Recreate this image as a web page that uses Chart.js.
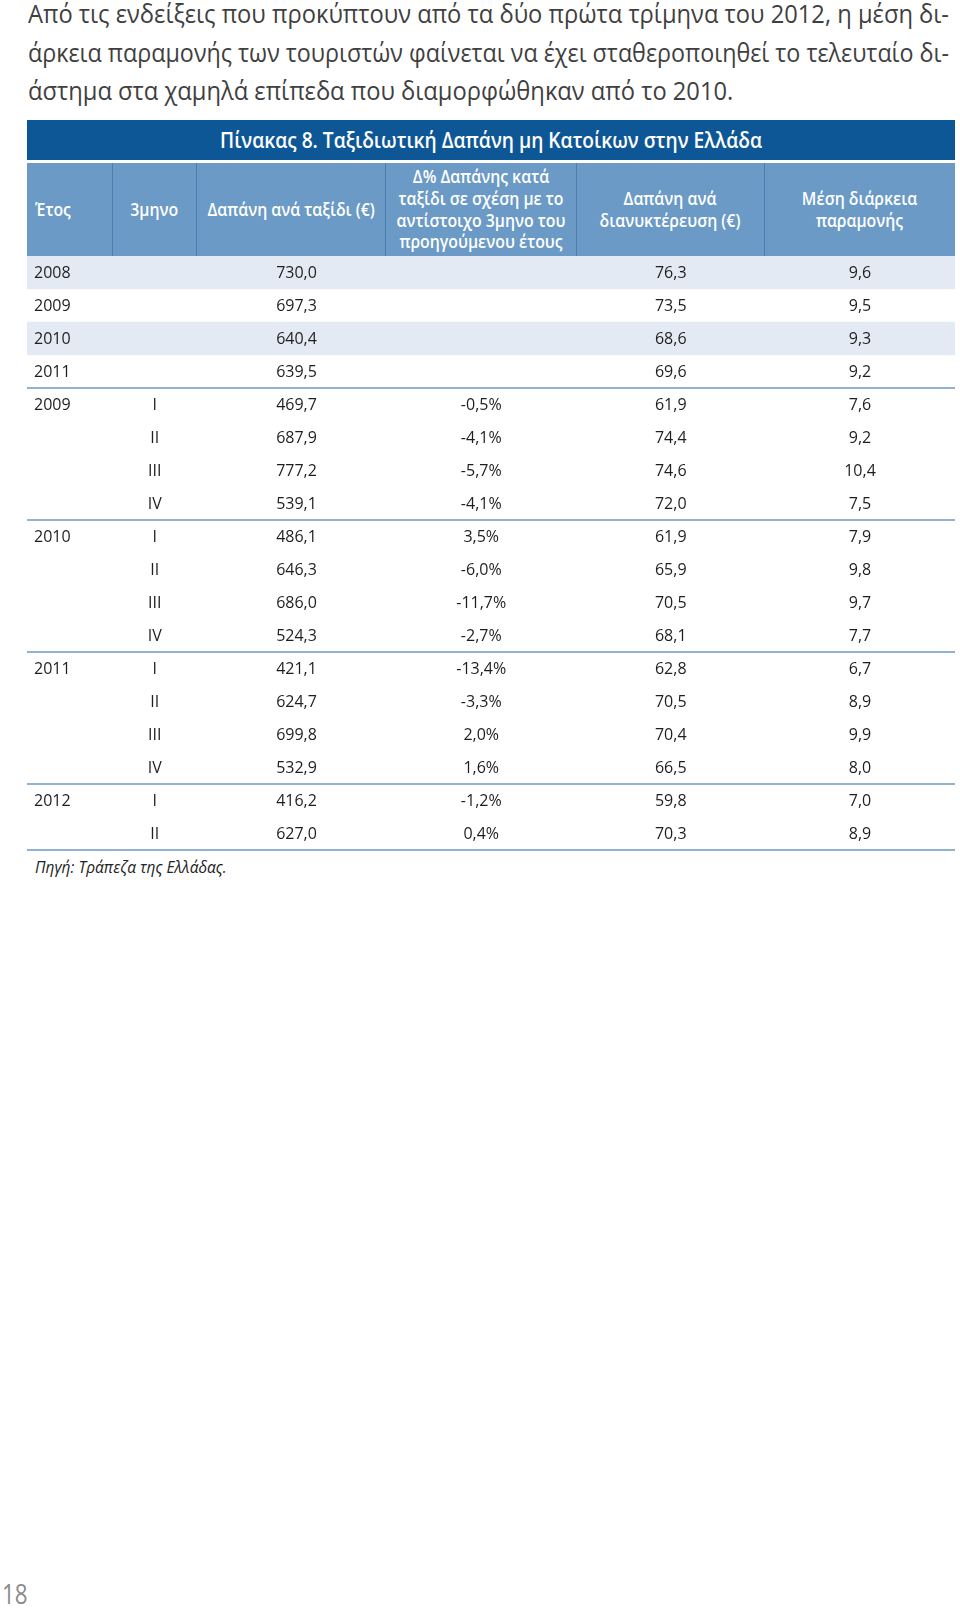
<!DOCTYPE html>
<html>
<head>
<meta charset="utf-8">
<script src="https://cdn.jsdelivr.net/npm/chart.js@4.4.1/dist/chart.umd.min.js"></script>
<style>
  html, body { margin: 0; padding: 0; background: #fff; }
  body { width: 960px; height: 1608px; position: relative; overflow: hidden; font-family: "Open Sans", "Noto Sans", sans-serif; }
  .para { position: absolute; left: 28px; top: -6px; color: #3f3f3f; font-size: 26px; line-height: 38.5px; }
  .para span { display: block; white-space: nowrap; transform-origin: 0 50%; width: max-content; }
  .title { position: absolute; left: 27px; top: 120px; width: 928px; height: 40px; background: #0e5797; color: #fff;
           font-weight: 600; font-size: 21px; display: flex; align-items: center; justify-content: center; }
  .title span { display: inline-block; white-space: nowrap; }
  .hcell { position: absolute; top: 163px; height: 93px; background: #6a9ac5; color: #fff; font-weight: 600; font-size: 18px;
           line-height: 21.8px; display: flex; align-items: center; justify-content: center; text-align: center;
           box-sizing: border-box; border-right: 1px solid #4a7fb1; }
  .hcell span { display: inline-block; white-space: nowrap; transform: scaleX(0.88); transform-origin: 50% 50%; }
  .hcell.left { justify-content: flex-start; padding-left: 8px; }
  .hcell.left span { transform-origin: 0 50%; }
  #wrap { position: absolute; left: 27px; top: 256px; }
  .source { position: absolute; left: 35px; top: 856px; font-style: italic; font-size: 15.5px; color: #222; }
  .page { position: absolute; left: 2px; top: 1574px; font-size: 28px; font-weight: 400; color: #8c8c8c; transform: scaleX(0.8); transform-origin: 0 0; }
</style>
</head>
<body>
<div class="para" id="para">
  <span>Από τις ενδείξεις που προκύπτουν από τα δύο πρώτα τρίμηνα του 2012, η μέση δι-</span>
  <span>άρκεια παραμονής των τουριστών φαίνεται να έχει σταθεροποιηθεί το τελευταίο δι-</span>
  <span>άστημα στα χαμηλά επίπεδα που διαμορφώθηκαν από το 2010.</span>
</div>

<div class="title"><span id="titleText">Πίνακας 8. Ταξιδιωτική Δαπάνη μη Κατοίκων στην Ελλάδα</span></div>
<div id="head"></div>

<div id="wrap"><canvas id="table" width="928" height="597"></canvas></div>

<div class="source">Πηγή: Τράπεζα της Ελλάδας.</div>
<div class="page">18</div>

<script>
// column headers
const headers = [
  'Έτος',
  '3μηνο',
  'Δαπάνη ανά ταξίδι (€)',
  'Δ% Δαπάνης κατά<br>ταξίδι σε σχέση με το<br>αντίστοιχο 3μηνο του<br>προηγούμενου έτους',
  'Δαπάνη ανά<br>διανυκτέρευση (€)',
  'Μέση διάρκεια<br>παραμονής'
];

// rows
const rowKeys = ['2008', '2009', '2010', '2011',
  '2009 I', '2009 II', '2009 III', '2009 IV',
  '2010 I', '2010 II', '2010 III', '2010 IV',
  '2011 I', '2011 II', '2011 III', '2011 IV',
  '2012 I', '2012 II'];
const yearText = ['2008', '2009', '2010', '2011', '2009', '', '', '', '2010', '', '', '', '2011', '', '', '', '2012', ''];
const quarterText = ['', '', '', '', 'I', 'II', 'III', 'IV', 'I', 'II', 'III', 'IV', 'I', 'II', 'III', 'IV', 'I', 'II'];

// values
const spendPerTrip = [730.0, 697.3, 640.4, 639.5, 469.7, 687.9, 777.2, 539.1, 486.1, 646.3, 686.0, 524.3, 421.1, 624.7, 699.8, 532.9, 416.2, 627.0];
const changePct = [null, null, null, null, -0.5, -4.1, -5.7, -4.1, 3.5, -6.0, -11.7, -2.7, -13.4, -3.3, 2.0, 1.6, -1.2, 0.4];
const spendPerNight = [76.3, 73.5, 68.6, 69.6, 61.9, 74.4, 74.6, 72.0, 61.9, 65.9, 70.5, 68.1, 62.8, 70.5, 70.4, 66.5, 59.8, 70.3];
const avgStay = [9.6, 9.5, 9.3, 9.2, 7.6, 9.2, 10.4, 7.5, 7.9, 9.8, 9.7, 7.7, 6.7, 8.9, 9.9, 8.0, 7.0, 8.9];
const shaded = [true, false, true, false, false, false, false, false, false, false, false, false, false, false, false, false, false, false];
const ruleAfter = [3, 7, 11, 15, 17];

// layout (px from the table's left edge)
const colEdges = [0, 85.5, 170, 359, 549.5, 738, 928];
const colShift = [7, 0, 5, 0, 0, 0];
const tableWidth = colEdges[colEdges.length - 1];

const gr = n => n.toFixed(1).replace('.', ',');
const pct = n => n == null ? '' : n.toFixed(1).replace('.', ',') + '%';

// header cells
const head = document.getElementById('head');
headers.forEach((h, i) => {
  const d = document.createElement('div');
  d.className = 'hcell' + (i == 0 ? ' left' : '');
  d.style.left = (27 + colEdges[i]) + 'px';
  d.style.width = (colEdges[i + 1] - colEdges[i]) + 'px';
  if (i == headers.length - 1) d.style.borderRight = 'none';
  d.innerHTML = '<span>' + h + '</span>';
  head.appendChild(d);
});

// fit title + paragraph lines
const tt = document.getElementById('titleText');
tt.style.transform = 'scaleX(' + (542 / tt.getBoundingClientRect().width) + ')';

const lines = document.querySelectorAll('#para span');
const s1 = 921 / lines[0].getBoundingClientRect().width;
const s2 = 921 / lines[1].getBoundingClientRect().width;
lines[0].style.transform = 'scaleX(' + s1 + ')';
lines[1].style.transform = 'scaleX(' + s2 + ')';
lines[2].style.transform = 'scaleX(' + s1 + ')';

//CELL TEXT + RULES
const cellPlugin = {
  id: 'cells',
  afterDatasetsDraw(chart) {
    const ctx = chart.ctx;
    const x = chart.scales.x, y = chart.scales.y;
    const half = (y.getPixelForValue(1) - y.getPixelForValue(0)) / 2;
    const mid = c => x.getPixelForValue((colEdges[c] + colEdges[c + 1]) / 2 + colShift[c]);

    ctx.save();
    ctx.fillStyle = '#1e1e1e';
    ctx.font = '16px "Open Sans"';
    ctx.textBaseline = 'middle';
    rowKeys.forEach((k, i) => {
      const py = y.getPixelForValue(i) + 1;
      ctx.textAlign = 'left';
      ctx.fillText(yearText[i], x.getPixelForValue(colEdges[0] + colShift[0]), py);
      ctx.textAlign = 'center';
      ctx.fillText(quarterText[i], mid(1), py);
      ctx.fillText(gr(spendPerTrip[i]), mid(2), py);
      ctx.fillText(pct(changePct[i]), mid(3), py);
      ctx.fillText(gr(spendPerNight[i]), mid(4), py);
      ctx.fillText(gr(avgStay[i]), mid(5), py);
    });

    ctx.strokeStyle = '#6f98c2';
    ctx.lineWidth = 1.6;
    ruleAfter.forEach(i => {
      const py = y.getPixelForValue(i) + half;
      ctx.beginPath();
      ctx.moveTo(x.getPixelForValue(0), py);
      ctx.lineTo(x.getPixelForValue(tableWidth), py);
      ctx.stroke();
    });
    ctx.restore();
  }
};

new Chart(document.getElementById('table'), {
  type: 'bar',
  data: {
    labels: rowKeys,
    datasets: [{
      data: shaded.map(s => s ? [0, tableWidth] : null),
      backgroundColor: '#e3eaf3',
      barPercentage: 1,
      categoryPercentage: 1,
      borderWidth: 0
    }]
  },
  options: {
    indexAxis: 'y',
    responsive: false,
    animation: false,
    devicePixelRatio: 1,
    layout: { padding: { top: 0, bottom: 3, left: 0, right: 0 } },
    plugins: { legend: { display: false }, tooltip: { enabled: false } },
    scales: {
      x: { type: 'linear', min: 0, max: tableWidth, display: false },
      y: { type: 'category', display: false, offset: true }
    }
  },
  plugins: [cellPlugin]
});
</script>
</body>
</html>
